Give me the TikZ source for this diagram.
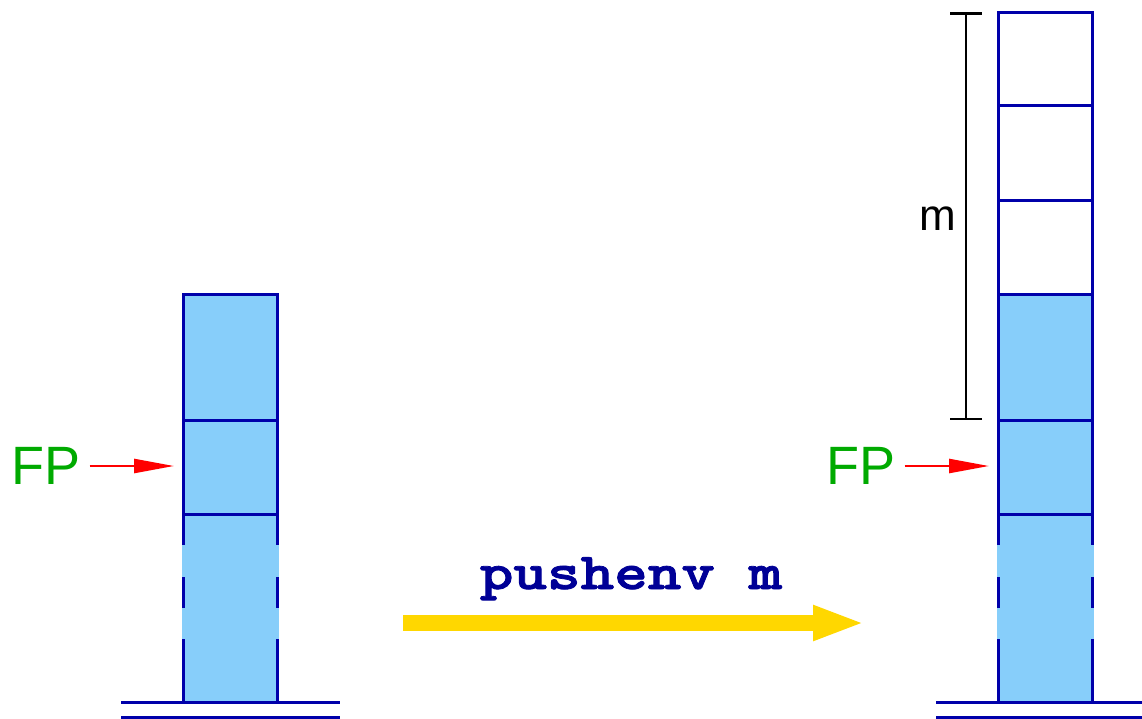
\documentclass[tikz,border=0pt]{standalone}
\usepackage{fontspec}
\setmainfont{Liberation Sans}
\newfontfamily\opfont{lmmonolt10-bold}[Extension=.otf, FakeBold=1.5]
\usetikzlibrary{arrows.meta}
\definecolor{stackblue}{RGB}{0,0,170}
\definecolor{cellfill}{RGB}{135,206,250}
\definecolor{fpgreen}{RGB}{0,170,0}
\definecolor{opblue}{RGB}{0,0,150}
\definecolor{gold}{RGB}{255,215,0}
\tikzset{
  cell/.style={draw=stackblue, line width=3pt, fill=cellfill, minimum width=94pt, inner sep=0pt, outer sep=0pt},
  emptycell/.style={cell, fill=white},
  opencell/.style={fill=cellfill, draw=none, minimum width=97pt, inner sep=0pt, outer sep=0pt},
  dashside/.style={draw=stackblue, line width=3pt, dash pattern=on 31pt off 32pt on 31pt off 31pt on 90pt},
  floor/.style={draw=stackblue, line width=3pt},
  fplabel/.style={text=fpgreen, font=\fontsize{54}{60}\selectfont, inner sep=0pt},
  fparrow/.style={draw=red, line width=2.5pt, -{Triangle[length=40pt,width=14pt]}, shorten <=9pt, shorten >=9pt},
  bracket/.style={draw=black, line width=2.5pt, {Bar[width=32pt]}-{Bar[width=32pt]}},
  bigarrow/.style={draw=gold, line width=16pt, -{Triangle[length=52pt,width=32pt]}},
}
\begin{document}
\begin{tikzpicture}[x=1pt,y=-1pt]
\useasboundingbox (0,0) rectangle (1142,718);
% left stack
\node[opencell, minimum height=188pt] (L3) at (230,608) {};
\node[cell, minimum height=126pt] (L1) at (230,357) {};
\node[cell, minimum height=94pt] (L2) at (230,467) {};
\draw[dashside] ([xshift=1.5pt]L3.north west) -- ([xshift=1.5pt]L3.south west);
\draw[dashside] ([xshift=-1.5pt]L3.north east) -- ([xshift=-1.5pt]L3.south east);
\coordinate (LF1a) at (121,702); \coordinate (LF1b) at (340,702);
\coordinate (LF2a) at (121,717); \coordinate (LF2b) at (340,717);
\draw[floor] (LF1a) -- (LF1b);
\draw[floor] (LF2a) -- (LF2b);
\node[fplabel] (FPL) at (46,466) {FP};
\draw[fparrow] (FPL.east) -- (FPL.east -| L2.west);
% right stack
\node[opencell, minimum height=188pt] (R6) at (1045,608) {};
\node[emptycell, minimum height=93pt] (R1) at (1045,58.5) {};
\node[emptycell, minimum height=95pt] (R2) at (1045,152.5) {};
\node[emptycell, minimum height=94pt] (R3) at (1045,247) {};
\node[cell, minimum height=126pt] (R4) at (1045,357) {};
\node[cell, minimum height=94pt] (R5) at (1045,467) {};
\draw[dashside] ([xshift=1.5pt]R6.north west) -- ([xshift=1.5pt]R6.south west);
\draw[dashside] ([xshift=-1.5pt]R6.north east) -- ([xshift=-1.5pt]R6.south east);
\coordinate (RF1a) at (936,702); \coordinate (RF1b) at (1142,702);
\coordinate (RF2a) at (936,717); \coordinate (RF2b) at (1142,717);
\draw[floor] (RF1a) -- (RF1b);
\draw[floor] (RF2a) -- (RF2b);
\node[fplabel] (FPR) at (861,466) {FP};
\draw[fparrow] (FPR.east) -- (FPR.east -| R5.west);
% bracket m
\coordinate (BT) at ([xshift=-32pt]R1.north west);
\coordinate (BB) at ([xshift=-32pt]R4.south west);
\draw[bracket] (BT) -- (BB);
\node[font=\fontsize{44}{50}\selectfont, inner sep=0pt] (mlab) at (938,219) {m};
% operation arrow
\coordinate (A0) at (403,623);
\coordinate (A1) at (865,623);
\draw[bigarrow] (A0) -- (A1);
\node[text=opblue, font=\opfont\fontsize{52}{58}\selectfont, inner sep=0pt, anchor=base] (op) at (631,589) {\scalebox{1.23}[1]{pushenv m}};
\end{tikzpicture}
\end{document}
